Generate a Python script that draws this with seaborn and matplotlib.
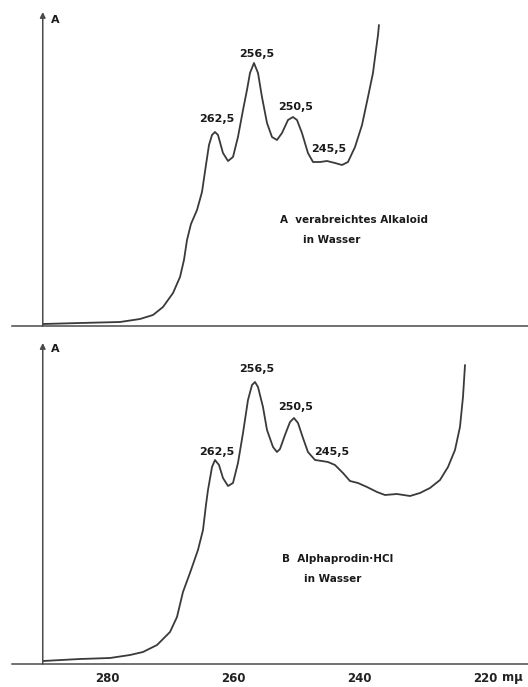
import matplotlib
matplotlib.use("Agg")
import matplotlib.pyplot as plt
import seaborn as sns
import pandas as pd

# ---- data (wavelength in nm, absorbance in arbitrary units) ----
wl_a = [290.16, 284.29, 277.94, 274.76, 272.70, 271.11, 269.52, 268.41, 267.78, 267.30,
        266.67, 265.71, 264.92, 264.29, 263.81, 263.33, 262.86, 262.38, 261.59, 260.79,
        260.00, 259.21, 258.41, 257.78, 257.30, 256.67, 256.03, 255.40, 254.60, 253.81,
        253.02, 252.22, 251.27, 250.48, 249.84, 249.05, 248.10, 247.30, 246.19, 245.08,
        243.81, 242.70, 241.75, 240.63, 239.52, 238.57, 237.78, 237.30, 236.98, 236.83]
abs_a = [0.02, 0.03, 0.04, 0.07, 0.11, 0.19, 0.33, 0.49, 0.66, 0.86,
         1.02, 1.16, 1.34, 1.61, 1.81, 1.91, 1.94, 1.91, 1.73, 1.65,
         1.69, 1.89, 2.16, 2.36, 2.53, 2.63, 2.53, 2.29, 2.03, 1.89,
         1.86, 1.93, 2.06, 2.09, 2.06, 1.93, 1.73, 1.64, 1.64, 1.65,
         1.63, 1.61, 1.64, 1.79, 2.01, 2.29, 2.53, 2.76, 2.91, 3.01]

wl_b = [290.16, 284.29, 279.52, 276.35, 274.29, 272.06, 270.00, 268.89, 267.94, 266.83,
        265.56, 264.76, 264.29, 263.97, 263.33, 262.86, 262.22, 261.59, 260.79, 260.00,
        259.21, 258.41, 257.62, 256.98, 256.51, 256.03, 255.24, 254.60, 253.65, 253.02,
        252.54, 251.75, 250.95, 250.32, 249.68, 248.89, 248.10, 246.98, 245.87, 244.92,
        243.81, 242.54, 241.43, 240.16, 238.73, 237.14, 235.87, 233.97, 231.90, 230.32,
        228.73, 227.14, 225.87, 224.76, 223.97, 223.49, 223.17]
abs_b = [0.03, 0.05, 0.06, 0.09, 0.12, 0.19, 0.32, 0.47, 0.72, 0.91,
         1.14, 1.34, 1.59, 1.74, 1.97, 2.04, 1.99, 1.86, 1.78, 1.81,
         2.01, 2.31, 2.64, 2.79, 2.82, 2.77, 2.57, 2.34, 2.17, 2.12,
         2.15, 2.29, 2.42, 2.46, 2.41, 2.26, 2.12, 2.04, 2.03, 2.02,
         1.99, 1.91, 1.83, 1.81, 1.77, 1.72, 1.69, 1.70, 1.68, 1.71,
         1.76, 1.84, 1.97, 2.14, 2.37, 2.67, 2.99]

peak_labels = ["262,5", "256,5", "250,5", "245,5"]
tick_values = [280, 270, 260, 250, 240, 230, 220]
tick_labels = ["280", "", "260", "", "240", "", "220"]
unit_label = "mμ"
axis_label = "A"
caption_a = ["A  verabreichtes Alkaloid", "in Wasser"]
caption_b = ["B  Alphaprodin·HCl", "in Wasser"]

# ---- layout ----
W, H = 528, 687
sns.set_theme(style="white")
plt.rcParams["font.family"] = ["DejaVu Sans"]
fig = plt.figure(figsize=(W / 100, H / 100), dpi=100)
fig.patch.set_facecolor("white")

def px(x, y):
    return x / W, 1 - y / H

line_col = "#3a3a3a"
axis_col = "#4a4a4a"
XL = (295.08, 213.17)
Y_AXIS_X = 290.2

def make_axes(top_px, base_px):
    ax = fig.add_axes([12 / W, 1 - base_px / H, 516 / W, (base_px - top_px) / H])
    ax.set_facecolor("none")
    for s in ["top", "right", "left"]:
        ax.spines[s].set_visible(False)
    ax.spines["bottom"].set_color(axis_col)
    ax.spines["bottom"].set_linewidth(1.1)
    return ax

ax1 = make_axes(12, 326)
ax2 = make_axes(343, 664)

df_a = pd.DataFrame({"wl": wl_a, "A": abs_a})
df_b = pd.DataFrame({"wl": wl_b, "A": abs_b})
sns.lineplot(data=df_a, x="wl", y="A", ax=ax1, color=line_col, lw=1.3, sort=False,
             solid_joinstyle="round", solid_capstyle="round")
sns.lineplot(data=df_b, x="wl", y="A", ax=ax2, color=line_col, lw=1.3, sort=False,
             solid_joinstyle="round", solid_capstyle="round")

ax1.set_ylim(0, 3.14)
ax2.set_ylim(0, 3.21)
for ax in (ax1, ax2):
    ax.set_xlim(*XL)
    ax.set_xlabel("")
    ax.set_ylabel("")
    ax.set_yticks([])
    ax.set_xticks(tick_values)
    ax.tick_params(axis="x", direction="out", length=4, width=1.0,
                   color=axis_col, pad=1.5, labelsize=8.5)

ax1.set_xticklabels([""] * len(tick_values))
ax2.set_xticklabels(tick_labels, fontweight="bold", color="#222222")

# vertical axes with arrows
for ax in (ax1, ax2):
    top = ax.get_ylim()[1]
    ax.annotate("", xy=(Y_AXIS_X, top), xytext=(Y_AXIS_X, 0),
                arrowprops=dict(arrowstyle="-|>", color=axis_col, lw=1.1,
                                mutation_scale=8, shrinkA=0, shrinkB=0),
                annotation_clip=False)

tkw = dict(fontsize=8, fontweight="bold", color="#1a1a1a")
fig.text(*px(51, 20), axis_label, ha="left", va="center", **tkw)
fig.text(*px(51, 349), axis_label, ha="left", va="center", **tkw)

# peak labels
pos_a = [(262.5, 2.07), (256.2, 2.72), (250.0, 2.19), (244.8, 1.77)]
pos_b = [(262.5, 2.12), (256.2, 2.95), (250.0, 2.57), (244.4, 2.12)]
for lab, (x, y) in zip(peak_labels, pos_a):
    ax1.text(x, y, lab, ha="center", va="center", **tkw)
for lab, (x, y) in zip(peak_labels, pos_b):
    ax2.text(x, y, lab, ha="center", va="center", **tkw)

ckw = dict(fontsize=7.5, fontweight="bold", color="#1a1a1a", ha="left", va="center")
fig.text(*px(280, 220), caption_a[0], **ckw)
fig.text(*px(303, 240), caption_a[1], **ckw)
fig.text(*px(282, 559), caption_b[0], **ckw)
fig.text(*px(304, 579), caption_b[1], **ckw)

fig.text(*px(502, 677), unit_label, ha="left", va="center",
         fontsize=8.5, fontweight="bold", color="#222222")

fig.savefig("out.png", dpi=100, facecolor="white")
